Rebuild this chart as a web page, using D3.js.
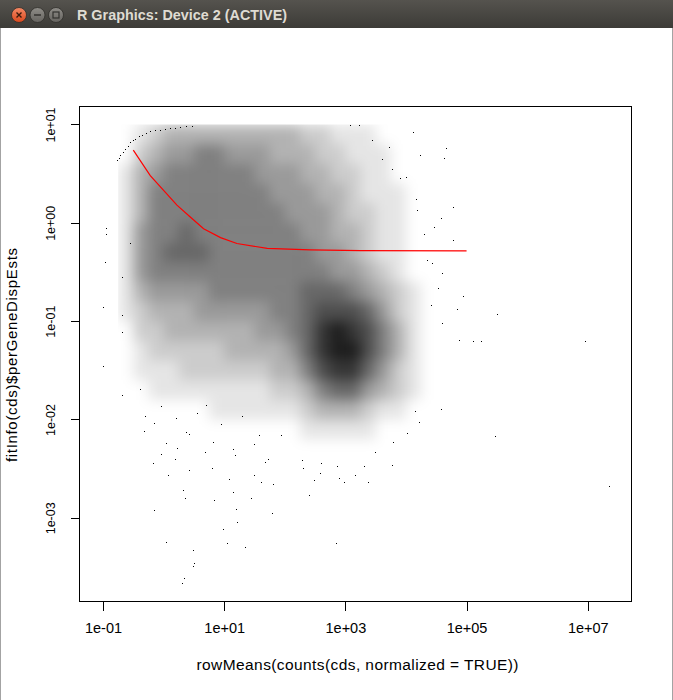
<!DOCTYPE html>
<html>
<head>
<meta charset="utf-8">
<script src="https://cdn.jsdelivr.net/npm/d3@7"></script>
<style>
body { margin: 0; background: #fff; overflow: hidden; }
svg { display: block; }
text { font-family: "Liberation Sans", Arial, sans-serif; }
</style>
</head>
<body>
<div id="chart"></div>
<script>
// axis ticks
const xTicks = [1e-1, 1e1, 1e3, 1e5, 1e7];
const xTickLabels = ['1e-01', '1e+01', '1e+03', '1e+05', '1e+07'];
const yTicks = [1e-3, 1e-2, 1e-1, 1e0, 1e1];
const yTickLabels = ['1e-03', '1e-02', '1e-01', '1e+00', '1e+01'];

// point density read off the cloud (0 = empty .. 9 = solid black)
// columns: log10(mean) bins of 0.25 from -0.75, rows: log10(dispersion) bins of 0.2 down from 1.0
const gridX0 = -0.75, gridXStep = 0.25;
const gridY0 = 1.0, gridYStep = 0.2;
const densityRows = [
	"0123333333332211100000",
	"0234455444333221110000",
	"1345555554443322110000",
	"1355555555444332111000",
	"1355555555544432211000",
	"1455655555554433211000",
	"1456665555555443211000",
	"1455555555555544321000",
	"1344445555556665432100",
	"1233344444556777642100",
	"0223333334456898753100",
	"0122222333346899753100",
	"0111222222335788642100",
	"0011111111223566432100",
	"0000001111112333211000",
	"0000000000001111100000"
];

// single genes that stand apart, [log10 mean, log10 dispersion]
const arcPoints = [
	[-0.77, 0.634], [-0.741, 0.664], [-0.716, 0.685], [-0.675, 0.72], [-0.633, 0.753],
	[-0.592, 0.786], [-0.551, 0.82], [-0.51, 0.839], [-0.468, 0.855], [-0.41, 0.878],
	[-0.358, 0.898], [-0.295, 0.914], [-0.221, 0.929], [-0.138, 0.939], [-0.055, 0.949],
	[0.027, 0.956], [0.11, 0.962], [0.192, 0.969], [0.275, 0.977], [0.374, 0.982], [0.473, 0.987]
];
const outlierPoints = [
	[-0.995, -1.454], [-0.947, -0.048], [-0.947, -0.114], [-0.975, -0.401], [-0.992, -0.857],
	[-0.69, -1.746], [-0.688, -0.546], [-0.688, -0.936], [-0.688, -1.106], [-0.551, -0.208],
	[-0.389, -1.695], [-0.302, -1.962], [-0.318, -2.117], [-0.16, -2.038], [0.045, -2.237],
	[0.222, -2.286], [-0.037, -2.354], [0.181, -2.399], [-0.171, -2.444], [0.075, -2.561],
	[0.422, -2.513], [0.798, -2.491], [0.321, -2.722], [0.357, -2.795], [0.833, -2.815],
	[-0.16, -2.918], [0.045, -3.241], [0.486, -3.323], [0.504, -3.458], [0.481, -3.491],
	[0.339, -3.612], [0.309, -3.659], [0.986, -3.114], [1.051, -3.251], [1.345, -3.293],
	[1.791, -2.952], [1.214, -3.042], [1.198, -2.907], [1.444, -2.798], [1.145, -2.735],
	[1.081, -2.605], [1.497, -2.564], [1.609, -2.633], [1.802, -2.66], [2.397, -2.767],
	[2.842, -3.251], [2.479, -2.619], [2.89, -2.591], [2.978, -2.64], [3.155, -2.568],
	[3.366, -2.633], [3.306, -2.478], [3.777, -2.458], [3.495, -2.331], [3.784, -2.227],
	[4.012, -2.137], [4.223, -2.021], [4.142, -1.91], [4.57, -1.89], [5.476, -2.169],
	[7.35, -2.673], [2.578, -2.54], [2.854, -2.478], [2.307, -2.495], [2.284, -2.416],
	[2.59, -2.444], [1.944, -2.159], [1.678, -2.433], [1.72, -2.406], [1.485, -2.254],
	[1.568, -2.159], [1.186, -2.364], [1.138, -2.296], [0.81, -2.227], [0.681, -2.331],
	[0.362, -2.127], [0.422, -2.152], [0.21, -1.98], [0.55, -1.93], [0.95, -2.05],
	[1.3, -1.96], [-0.05, -1.86], [0.7, -1.85],
	[4.117, 0.919], [4.662, 0.759], [4.634, 0.657], [4.238, 0.692], [3.714, 0.776],
	[4.167, 0.244], [4.771, 0.156], [4.573, 0.044], [4.304, -0.116], [4.771, -0.173],
	[4.457, -0.038], [4.523, -0.665], [4.936, -0.743], [5.498, -0.923], [5.108, -1.2],
	[5.24, -1.2], [6.951, -1.2], [4.837, -0.879], [4.596, -1.021], [4.882, -1.19],
	[4.414, -0.834], [3.082, 0.997], [3.231, 0.997], [3.44, 0.844], [3.599, 0.651],
	[3.775, 0.549], [3.908, 0.454], [3.995, 0.461], [4.183, 0.132], [4.348, -0.376],
	[4.431, -0.411], [4.601, -0.513]
];

// fitted dispersion curve, [log10 mean, log10 dispersion]
const fitLine = [
	[-0.5, 0.74], [-0.22, 0.48], [0.0, 0.33], [0.22, 0.18], [0.44, 0.06], [0.66, -0.06],
	[0.94, -0.15], [1.21, -0.21], [1.71, -0.26], [2.42, -0.275], [3.25, -0.282], [5.0, -0.285]
];

const W = 673, H = 700;
const plot = { left: 79.5, right: 631.5, top: 106.5, bottom: 601.5 };

let svg = d3.select('#chart').append('svg')
	.attr('width', W)
	.attr('height', H);

let defs = svg.append('defs');

// ---- window title bar ----
let barGrad = defs.append('linearGradient')
	.attr('id', 'barGrad')
	.attr('x1', 0).attr('y1', 0).attr('x2', 0).attr('y2', 1);
barGrad.append('stop').attr('offset', '0%').attr('stop-color', '#55534e');
barGrad.append('stop').attr('offset', '100%').attr('stop-color', '#3c3b37');

let closeGrad = defs.append('linearGradient')
	.attr('id', 'closeGrad')
	.attr('x1', 0).attr('y1', 0).attr('x2', 0).attr('y2', 1);
closeGrad.append('stop').attr('offset', '0%').attr('stop-color', '#f58a66');
closeGrad.append('stop').attr('offset', '100%').attr('stop-color', '#d9471c');

let btnGrad = defs.append('linearGradient')
	.attr('id', 'btnGrad')
	.attr('x1', 0).attr('y1', 0).attr('x2', 0).attr('y2', 1);
btnGrad.append('stop').attr('offset', '0%').attr('stop-color', '#8f8d88');
btnGrad.append('stop').attr('offset', '100%').attr('stop-color', '#65635f');

svg.append('rect')
	.attr('x', 0).attr('y', 0)
	.attr('width', W).attr('height', 28)
	.attr('fill', 'url(#barGrad)');

svg.append('line')
	.attr('x1', 0.5).attr('y1', 28).attr('x2', 0.5).attr('y2', H)
	.attr('stroke', '#a3a3a3');
svg.append('line')
	.attr('x1', W - 0.5).attr('y1', 28).attr('x2', W - 0.5).attr('y2', H)
	.attr('stroke', '#a3a3a3');

svg.append('circle')
	.attr('cx', 19).attr('cy', 15).attr('r', 7.5)
	.attr('fill', 'url(#closeGrad)')
	.attr('stroke', '#2e2d2a').attr('stroke-width', 0.8);
svg.append('path')
	.attr('d', 'M16.5,12.5 L21.5,17.5 M21.5,12.5 L16.5,17.5')
	.attr('stroke', '#3b1a0c').attr('stroke-width', 1.4);

svg.append('circle')
	.attr('cx', 37.5).attr('cy', 15).attr('r', 7.5)
	.attr('fill', 'url(#btnGrad)')
	.attr('stroke', '#2e2d2a').attr('stroke-width', 0.8);
svg.append('line')
	.attr('x1', 34).attr('y1', 15).attr('x2', 41).attr('y2', 15)
	.attr('stroke', '#33322f').attr('stroke-width', 1.5);

svg.append('circle')
	.attr('cx', 56).attr('cy', 15).attr('r', 7.5)
	.attr('fill', 'url(#btnGrad)')
	.attr('stroke', '#2e2d2a').attr('stroke-width', 0.8);
svg.append('rect')
	.attr('x', 53).attr('y', 12).attr('width', 6).attr('height', 6)
	.attr('fill', 'none')
	.attr('stroke', '#33322f').attr('stroke-width', 1.2);

svg.append('text')
	.attr('x', 77)
	.attr('y', 19.5)
	.attr('fill', '#dfdbd2')
	.attr('font-family', 'Lato, "Noto Sans", sans-serif')
	.attr('font-size', '14.5px')
	.attr('font-weight', '700')
	.attr('textLength', 210)
	.attr('lengthAdjust', 'spacingAndGlyphs')
	.text('R Graphics: Device 2 (ACTIVE)');

// ---- scales ----
let x = d3.scaleLog()
	.domain([Math.pow(10, -1.388), Math.pow(10, 7.722)])
	.range([plot.left, plot.right]);
let y = d3.scaleLog()
	.domain([Math.pow(10, -3.851), Math.pow(10, 1.183)])
	.range([plot.bottom, plot.top]);

// ---- point cloud (density cells) ----
let cells = [];
densityRows.forEach((row, j) => {
	row.split('').forEach((c, i) => {
		let v = +c;
		if (v > 0) {
			cells.push({
				x0: Math.pow(10, gridX0 + i * gridXStep),
				x1: Math.pow(10, gridX0 + (i + 1) * gridXStep),
				y0: Math.pow(10, gridY0 - (j + 1) * gridYStep),
				y1: Math.pow(10, gridY0 - j * gridYStep),
				v: v
			});
		}
	});
});

defs.append('filter')
	.attr('id', 'soft')
	.attr('filterUnits', 'userSpaceOnUse')
	.attr('x', 0).attr('y', 0)
	.attr('width', W).attr('height', H)
	.append('feGaussianBlur')
	.attr('stdDeviation', 6.5);

defs.append('clipPath')
	.attr('id', 'cloudClip')
	.append('rect')
	.attr('x', x(Math.pow(10, gridX0)))
	.attr('y', y(Math.pow(10, gridY0)))
	.attr('width', plot.right - x(Math.pow(10, gridX0)))
	.attr('height', plot.bottom - y(Math.pow(10, gridY0)));

let cloud = svg.append('g')
	.attr('class', 'cloud')
	.attr('filter', 'url(#soft)')
	.attr('clip-path', 'url(#cloudClip)');

cloud.selectAll('rect')
	.data(cells)
	.enter()
	.append('rect')
	.attr('x', d => x(d.x0))
	.attr('y', d => y(d.y1))
	.attr('width', d => x(d.x1) - x(d.x0))
	.attr('height', d => y(d.y0) - y(d.y1))
	.attr('fill', 'black')
	.attr('fill-opacity', d => d.v / 10);

// ---- single points ----
let dots = arcPoints.concat(outlierPoints).map(d => [Math.pow(10, d[0]), Math.pow(10, d[1])]);

svg.append('g')
	.attr('class', 'dots')
	.attr('shape-rendering', 'crispEdges')
	.selectAll('rect')
	.data(dots)
	.enter()
	.append('rect')
	.attr('x', d => Math.round(x(d[0])))
	.attr('y', d => Math.round(y(d[1])))
	.attr('width', 1)
	.attr('height', 1)
	.attr('fill', 'black');

// ---- fitted line ----
let line = d3.line()
	.x(d => x(Math.pow(10, d[0])))
	.y(d => y(Math.pow(10, d[1])));

svg.append('path')
	.datum(fitLine)
	.attr('d', line)
	.attr('fill', 'none')
	.attr('stroke', '#ff0000')
	.attr('stroke-width', 1.2);

// ---- box and axes ----
svg.append('rect')
	.attr('x', plot.left).attr('y', plot.top)
	.attr('width', plot.right - plot.left)
	.attr('height', plot.bottom - plot.top)
	.attr('fill', 'none')
	.attr('stroke', 'black')
	.attr('stroke-width', 1)
	.attr('shape-rendering', 'crispEdges');

let axis_x = d3.axisBottom(x)
	.tickValues(xTicks)
	.tickSize(9)
	.tickSizeOuter(0)
	.tickFormat((d, i) => xTickLabels[i]);

let gx = svg.append('g')
	.attr('class', 'x-axis')
	.attr('transform', `translate(0, ${plot.bottom})`)
	.call(axis_x);
gx.select('.domain').remove();
gx.selectAll('line').attr('stroke', 'black').attr('shape-rendering', 'crispEdges');
gx.selectAll('text')
	.attr('y', 31)
	.attr('dy', 0)
	.attr('fill', 'black')
	.style('font-family', '"Liberation Sans", Arial, sans-serif')
	.style('font-size', '14.5px');

let axis_y = d3.axisLeft(y)
	.tickValues(yTicks)
	.tickSize(9)
	.tickSizeOuter(0)
	.tickFormat((d, i) => yTickLabels[i]);

let gy = svg.append('g')
	.attr('class', 'y-axis')
	.attr('transform', `translate(${plot.left}, 0)`)
	.call(axis_y);
gy.select('.domain').remove();
gy.selectAll('line').attr('stroke', 'black').attr('shape-rendering', 'crispEdges');
gy.selectAll('text')
	.attr('x', 0)
	.attr('y', 0)
	.attr('dy', 0)
	.attr('text-anchor', 'middle')
	.attr('transform', 'translate(-25, 0) rotate(-90)')
	.attr('fill', 'black')
	.style('font-family', '"Liberation Sans", Arial, sans-serif')
	.style('font-size', '12.5px');

// ---- axis titles ----
svg.append('text')
	.attr('x', (plot.left + plot.right) / 2 + 2)
	.attr('y', 670)
	.attr('text-anchor', 'middle')
	.attr('fill', 'black')
	.attr('font-size', '15.5px')
	.attr('textLength', 322)
	.attr('lengthAdjust', 'spacing')
	.text('rowMeans(counts(cds, normalized = TRUE))');

svg.append('text')
	.attr('transform', 'translate(17, 355) rotate(-90)')
	.attr('text-anchor', 'middle')
	.attr('fill', 'black')
	.attr('font-size', '15px')
	.attr('textLength', 214)
	.attr('lengthAdjust', 'spacing')
	.text('fitInfo(cds)$perGeneDispEsts');
</script>
</body>
</html>
